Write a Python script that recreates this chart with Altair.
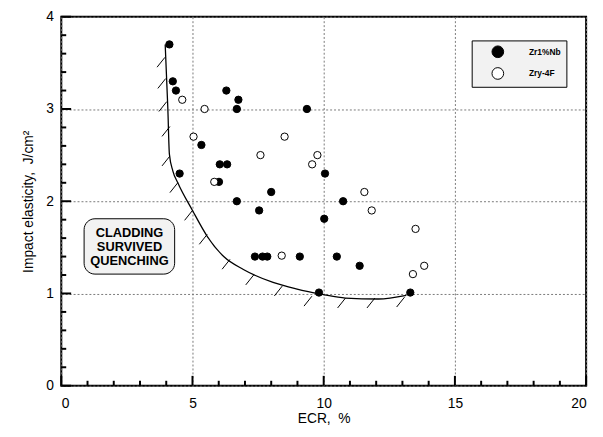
import altair as alt
import pandas as pd

# ---------------- data ----------------
series_names = ["Zr1%Nb", "Zry-4F"]

zr_x = [4.12, 4.25, 4.37, 6.29, 6.75, 6.69, 9.36, 5.34, 6.04, 6.32, 4.51, 10.05, 6.01,
        8.00, 6.69, 10.74, 7.54, 10.02, 7.38, 7.67, 7.85, 9.09, 10.50, 11.37, 9.82, 13.30]
zr_y = [3.70, 3.30, 3.20, 3.20, 3.10, 3.00, 3.00, 2.61, 2.40, 2.40, 2.30, 2.30, 2.21,
        2.10, 2.00, 2.00, 1.90, 1.81, 1.40, 1.40, 1.40, 1.40, 1.40, 1.30, 1.01, 1.01]

zry_x = [4.61, 5.46, 5.04, 8.51, 7.59, 9.76, 9.56, 5.83, 8.40, 11.55, 11.83, 13.50, 13.83, 13.40]
zry_y = [3.10, 3.00, 2.70, 2.70, 2.50, 2.50, 2.40, 2.21, 1.41, 2.10, 1.90, 1.70, 1.30, 1.21]

curve_x = [3.96, 4.06, 4.12, 4.25, 4.44, 5.00, 5.56, 6.19, 6.94, 8.07, 8.95, 9.95, 10.83, 12.08, 13.15]
curve_y = [3.70, 3.01, 2.51, 2.33, 2.20, 1.90, 1.62, 1.40, 1.26, 1.12, 1.05, 0.99, 0.95, 0.94, 0.98]

hatch_x = [3.95, 3.98, 4.02, 4.14, 4.14, 4.44, 5.00, 5.56, 6.43, 7.33, 8.42, 9.55, 10.83, 11.95, 13.08]
hatch_y = [3.56, 3.33, 3.08, 2.81, 2.49, 2.20, 1.90, 1.64, 1.37, 1.20, 1.08, 0.97, 0.95, 0.95, 0.96]

x_major = [0, 5, 10, 15, 20]
x_minor = [1, 2, 3, 4, 6, 7, 8, 9, 11, 12, 13, 14, 16, 17, 18, 19]
y_major = [0, 1, 2, 3, 4]
y_minor = [0.2, 0.4, 0.6, 0.8, 1.2, 1.4, 1.6, 1.8, 2.2, 2.4, 2.6, 2.8,
           3.2, 3.4, 3.6, 3.8]

note_lines = ["CLADDING", "SURVIVED", "QUENCHING"]
note_line_y = [1.66, 1.505, 1.35]

# ---------------- tables ----------------
pts = pd.DataFrame({
    "ecr": zr_x + zry_x,
    "ie": zr_y + zry_y,
    "alloy": [series_names[0]] * len(zr_x) + [series_names[1]] * len(zry_x),
})
curve = pd.DataFrame({"ecr": curve_x, "ie": curve_y, "order": list(range(len(curve_x)))})
HATCH_DX, HATCH_DY = 0.30, 0.107
hatch = pd.DataFrame({"ecr": hatch_x, "ie": hatch_y})
hatch["ecr2"] = hatch["ecr"] - HATCH_DX
hatch["ie2"] = hatch["ie"] - HATCH_DY
note_box = pd.DataFrame({"x1": [0.87], "x2": [4.32], "y1": [1.21], "y2": [1.81]})
note = pd.DataFrame({"x": [2.6] * len(note_lines), "y": note_line_y, "t": note_lines})

xt_major = pd.DataFrame({"v": x_major})
xt_minor = pd.DataFrame({"v": x_minor})
yt_major = pd.DataFrame({"v": y_major})
yt_minor = pd.DataFrame({"v": y_minor})

W, H = 532, 374
FONT = "Liberation Sans"
xscale = alt.Scale(domain=[0, 20], nice=False, zero=False)
yscale = alt.Scale(domain=[0, 4], nice=False, zero=False)

x_axis = alt.Axis(values=x_major, orient="bottom", title="ECR,\u00a0 %", format="d",
                  ticks=False, domain=False,
                  grid=True, gridDash=[2, 2], gridColor="#7a7a7a", gridWidth=1,
                  labelPadding=11, titlePadding=1, labelFont=FONT, labelFontSize=14,
                  titleFont=FONT, titleFontSize=14, titleFontWeight="normal",
                  labelColor="black", titleColor="black")
y_axis = alt.Axis(values=y_major, orient="left", title="Impact elasticity,\u00a0 J/cm²", format="d",
                  ticks=False, domain=False,
                  grid=True, gridDash=[2, 2], gridColor="#7a7a7a", gridWidth=1,
                  labelPadding=8, titlePadding=10, labelFont=FONT, labelFontSize=14,
                  titleFont=FONT, titleFontSize=14, titleFontWeight="normal",
                  labelColor="black", titleColor="black")


def X(field):
    return alt.X(field, scale=xscale, axis=x_axis)


def Y(field):
    return alt.Y(field, scale=yscale, axis=y_axis)


# inward tick marks (positions via the x/y scales)
xt_major_layer = alt.Chart(xt_major).mark_rule(color="black", strokeWidth=2).encode(
    x=X("v:Q"), y=alt.value(H), y2=alt.value(H - 10))
xt_minor_layer = alt.Chart(xt_minor).mark_rule(color="black", strokeWidth=2).encode(
    x=X("v:Q"), y=alt.value(H), y2=alt.value(H - 5))
yt_major_layer = alt.Chart(yt_major).mark_rule(color="black", strokeWidth=2).encode(
    y=Y("v:Q"), x=alt.value(0), x2=alt.value(10))
yt_minor_layer = alt.Chart(yt_minor).mark_rule(color="black", strokeWidth=2).encode(
    y=Y("v:Q"), x=alt.value(0), x2=alt.value(5))

curve_layer = alt.Chart(curve).mark_line(color="black", strokeWidth=1.3, interpolate="monotone").encode(
    x=X("ecr:Q"), y=Y("ie:Q"), order="order:Q",
)

hatch_layer = alt.Chart(hatch).mark_rule(color="black", strokeWidth=1).encode(
    x=X("ecr:Q"), y=Y("ie:Q"), x2="ecr2:Q", y2="ie2:Q",
)

box_layer = alt.Chart(note_box).mark_rect(cornerRadius=11, fill="#f2f2f2", stroke="black",
                                          strokeWidth=1).encode(
    x=X("x1:Q"), x2="x2:Q", y=Y("y1:Q"), y2="y2:Q",
)

text_layer = alt.Chart(note).mark_text(font=FONT, fontSize=13, fontWeight="bold",
                                       align="center", baseline="middle",
                                       color="black").encode(
    x=X("x:Q"), y=Y("y:Q"), text="t:N",
)

points_layer = alt.Chart(pts).mark_point(shape="circle", filled=True, size=55, stroke="black",
                                         strokeWidth=1, opacity=1).encode(
    x=X("ecr:Q"),
    y=Y("ie:Q"),
    fill=alt.Fill("alloy:N", scale=alt.Scale(domain=series_names, range=["black", "white"]),
                  legend=alt.Legend(title=None, orient="none", legendX=416, legendY=24,
                                    fillColor="#f2f2f2", strokeColor="black", padding=5,
                                    symbolType="circle", symbolSize=140, symbolStrokeColor="black",
                                    symbolStrokeWidth=1, symbolOffset=15, labelOffset=25,
                                    rowPadding=5, labelFont=FONT, labelFontSize=8.5,
                                    labelFontWeight="bold", labelColor="black")),
)

chart = alt.layer(
    xt_major_layer, xt_minor_layer, yt_major_layer, yt_minor_layer,
    curve_layer, hatch_layer, box_layer, text_layer, points_layer,
).properties(
    width=W, height=H,
    autosize=alt.AutoSizeParams(type="none"),
    padding={"left": 54, "top": 6, "right": 9, "bottom": 40},
    background="white",
).configure_view(stroke="black", strokeWidth=2)

chart.save("out.html", embed_options={"renderer": "svg", "actions": False})
